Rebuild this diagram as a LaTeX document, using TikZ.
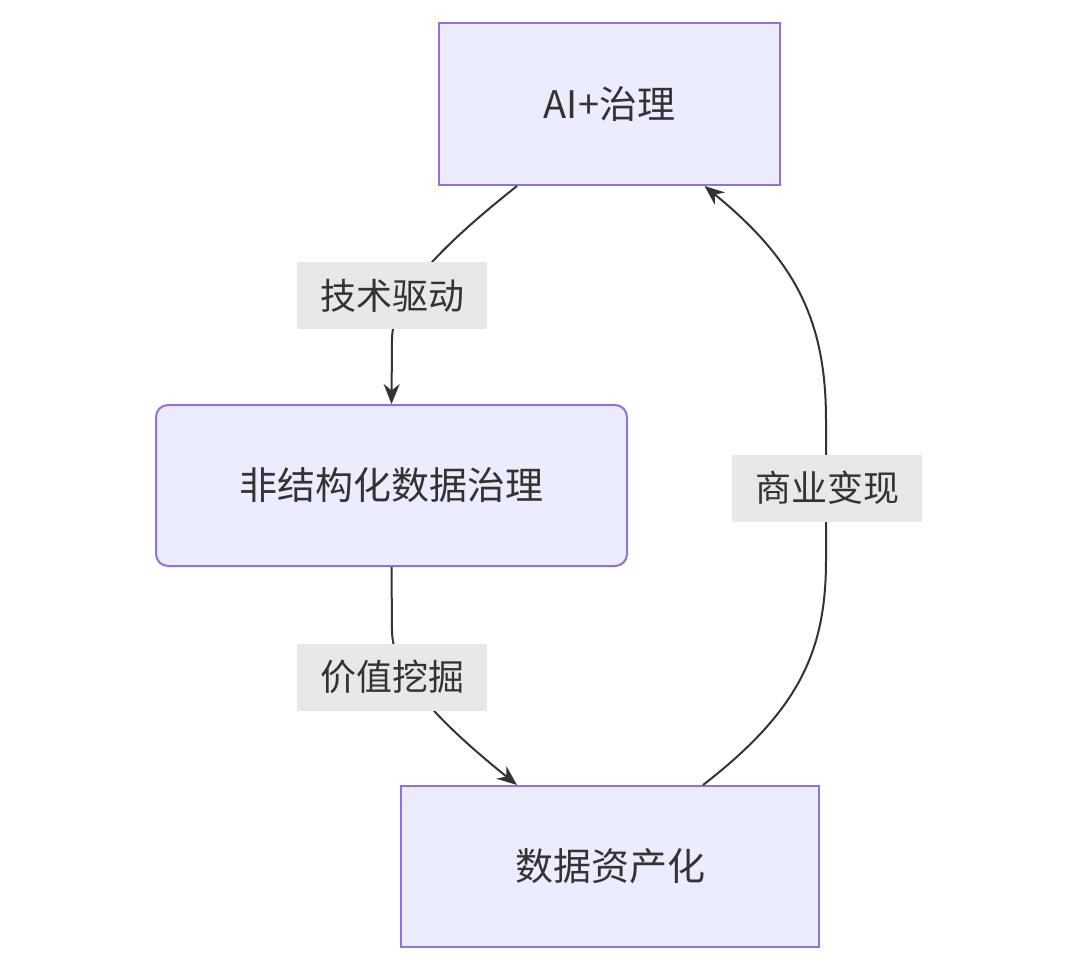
\documentclass[tikz,border=0pt]{standalone}
\usepackage{fontspec}
\setmainfont{Noto Sans CJK SC}
\usetikzlibrary{arrows.meta}
\definecolor{nfill}{HTML}{ECECFF}
\definecolor{nline}{HTML}{9370DB}
\definecolor{lbg}{HTML}{E8E8E8}
\definecolor{tx}{HTML}{333333}
\begin{document}
\begin{tikzpicture}[x=1pt,y=-1pt,
  box/.style={draw=nline,fill=nfill,line width=2pt,text=tx,font=\fontsize{38}{44}\selectfont,inner sep=0pt},
  lab/.style={fill=lbg,text=tx,font=\fontsize{36}{42}\selectfont,inner sep=2pt,minimum height=67pt},
  edge/.style={draw=tx,line width=2pt,-{Stealth[length=20pt,width=16pt]}}]
\useasboundingbox (0,0) rectangle (1080,972);
\fill[white] (0,0) rectangle (1080,972);
\node[box,minimum width=341pt,minimum height=162pt] (ai) at (609.5,104) {AI+治理};
\node[box,rounded corners=12pt,minimum width=471pt,minimum height=161pt] (un) at (391.5,485.5) {非结构化数据治理};
\node[box,minimum width=418pt,minimum height=161pt] (da) at (610,866.5) {数据资产化};
\draw[edge] ([xshift=-92.5pt]ai.south) .. controls (430,255) and (392,300) .. (392,340) -- (un.north);
\draw[edge] (un.south) -- (392,630) .. controls (392,670) and (430,715) .. ([xshift=-93pt]da.north);
\draw[edge] ([xshift=93pt]da.north) .. controls (800,710) and (826,650) .. (826,560) -- (826,420) .. controls (826,320) and (795,260) .. ([xshift=95pt]ai.south);
\node[lab,minimum width=190pt] (l1) at (392,295.5) {技术驱动};
\node[lab,minimum width=190pt] (l2) at (392,677) {价值挖掘};
\node[lab,minimum width=190pt] (l3) at (827,488) {商业变现};
\end{tikzpicture}
\end{document}
